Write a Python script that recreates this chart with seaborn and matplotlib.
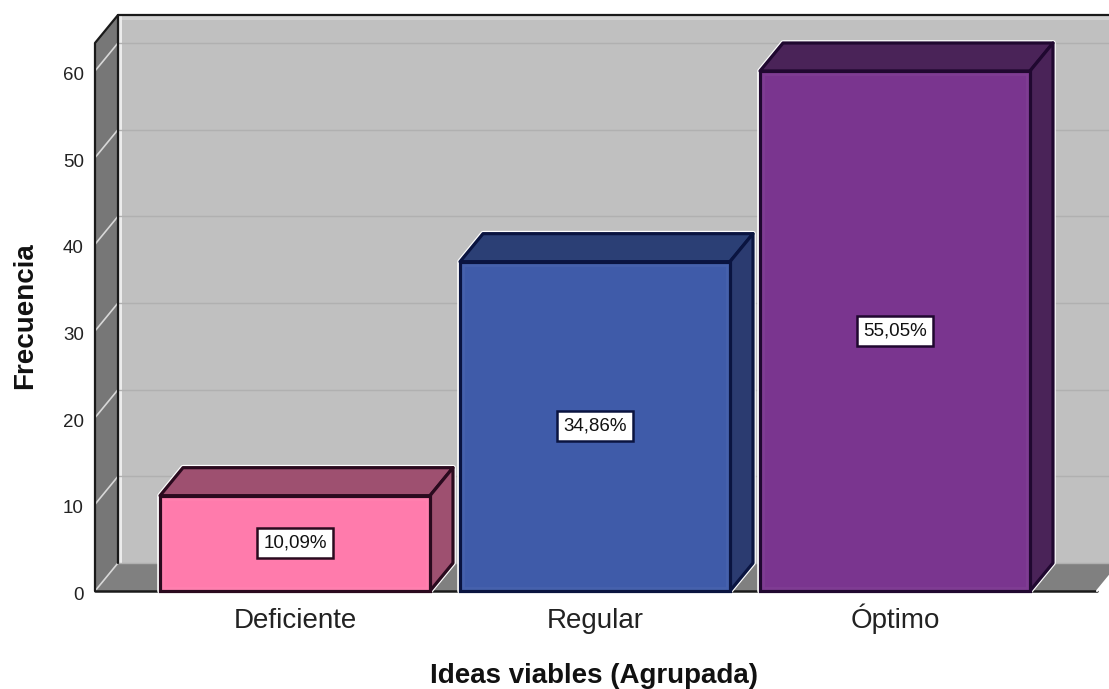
import matplotlib
matplotlib.use("Agg")
import matplotlib.pyplot as plt
from matplotlib.patches import Polygon, Rectangle
from matplotlib.transforms import ScaledTranslation
import pandas as pd
import seaborn as sns

categories = ["Deficiente", "Regular", "Óptimo"]
counts = [11, 38, 60]
percent_labels = ["10,09%", "34,86%", "55,05%"]
y_ticks = [0, 10, 20, 30, 40, 50, 60]

front_colors = ["#FF7BAC", "#3F5BA9", "#7A358F"]
top_colors = ["#9E5070", "#2B3F75", "#4A2358"]
side_colors = ["#9E5070", "#2B3B70", "#4A2358"]
edge_colors = ["#2A0A1E", "#0A1440", "#200830"]

sns.set_theme(style="white")
plt.rcParams["font.family"] = ["Liberation Sans", "DejaVu Sans"]

W, H = 1109, 689
fig = plt.figure(figsize=(W / 100, H / 100), dpi=100, facecolor="white")
ax = fig.add_axes([95 / W, (H - 591) / H, (W - 95) / W, 576 / H])

frame = pd.DataFrame({"categoria": categories, "frecuencia": counts})
sns.barplot(
    data=frame, x="categoria", y="frecuencia", hue="categoria",
    palette=front_colors, width=0.9, legend=False, saturation=1,
    ax=ax, zorder=5,
)

# Scales: one category spans 300 px, one count spans 8.667 px.
px_x, px_y = 1 / 300, 1 / 8.667
x_left = -200 * px_x
x_right = x_left + (W - 95) * px_x
y_top = 576 * px_y
ax.set_xlim(x_left, x_right)
ax.set_ylim(0, y_top)
depth_x, depth_y = 23 * px_x, 28 * px_y
floor_right = x_left + (1097 - 95) * px_x


def face(points, fc, ec="black", lw=1.6, z=1):
    ax.add_patch(Polygon(points, closed=True, facecolor=fc, edgecolor=ec,
                         linewidth=lw, joinstyle="round", clip_on=False, zorder=z))


# Back wall, floor and side wall of the chart box
wall_x = x_left + depth_x
face([(wall_x, depth_y), (x_right + 0.1, depth_y), (x_right + 0.1, y_top), (wall_x, y_top)],
     "#C0C0C0", ec="none", z=1)
ax.fill_between([wall_x, x_right], y_top - 0.6, y_top, color="#D2D2D2", lw=0, zorder=1.1)
ax.fill_between([wall_x, wall_x + 0.012], depth_y, y_top, color="#ECECEC", lw=0, zorder=1.1)
face([(x_left, 0), (floor_right, 0), (floor_right + depth_x, depth_y), (wall_x, depth_y)],
     "#808080", ec="none", z=1.2)
face([(x_left, 0), (wall_x, depth_y), (wall_x, y_top), (x_left, y_top - depth_y)],
     "#777777", ec="none", z=1.2)

for v in y_ticks:
    ax.plot([wall_x, x_right], [v + depth_y] * 2, color="#B0B0B0", lw=1,
            clip_on=False, zorder=1.3)
    ax.plot([x_left, wall_x], [v, v + depth_y], color="#D8D8D8", lw=1.2,
            clip_on=False, zorder=1.4)

ax.plot([x_left, x_left, wall_x, x_right], [0, y_top - depth_y, y_top, y_top],
        color="#1A1A1A", lw=1.6, clip_on=False, zorder=1.5)
ax.plot([wall_x, wall_x], [depth_y, y_top], color="#1A1A1A", lw=1.6, clip_on=False, zorder=1.5)
ax.plot([x_left, floor_right], [0, 0], color="#1A1A1A", lw=1.8, clip_on=False, zorder=1.5)
ax.plot([floor_right, floor_right + depth_x], [0, depth_y], color="white", lw=1.5,
        clip_on=False, zorder=1.5)

# Extrude each seaborn bar into a box, with a pale halo round its outline
bars = [c[0] for c in ax.containers]
for i, bar in enumerate(bars):
    x0, x1 = bar.get_x(), bar.get_x() + bar.get_width()
    h = bar.get_height()
    bar.set_edgecolor(edge_colors[i])
    bar.set_linewidth(2.3)
    bar.set_clip_on(False)
    face([(x0, 0), (x0, h), (x0 + depth_x, h + depth_y), (x1 + depth_x, h + depth_y),
          (x1 + depth_x, depth_y), (x1, 0)], "white", ec="white", lw=4, z=2)
    face([(x0, h), (x1, h), (x1 + depth_x, h + depth_y), (x0 + depth_x, h + depth_y)],
         top_colors[i], ec=edge_colors[i], lw=2.3, z=3)
    face([(x1, 0), (x1, h), (x1 + depth_x, h + depth_y), (x1 + depth_x, depth_y)],
         side_colors[i], ec=edge_colors[i], lw=2.3, z=3)
    # Faint bevel just inside the front face
    inset_x, inset_y = 3 * px_x, 3 * px_y
    ax.add_patch(Rectangle((x0 + inset_x, inset_y), x1 - x0 - 2 * inset_x, h - 2 * inset_y,
                           fill=False, edgecolor="white", alpha=0.04, lw=2, zorder=6))
    ax.text((x0 + x1) / 2, h / 2, percent_labels[i], ha="center", va="center",
            fontsize=13.5, color="#111111", zorder=8,
            bbox=dict(boxstyle="square,pad=0.34", fc="white", ec=edge_colors[i], lw=1.8))

sns.despine(ax=ax, left=True, bottom=True, top=True, right=True)
ax.set_yticks(y_ticks)
ax.set_yticklabels([str(v) for v in y_ticks], fontsize=13.5, color="#222222")
ax.set_xticks(range(len(categories)))
ax.set_xticklabels(categories, fontsize=20, color="#222222", va="baseline")
ax.tick_params(axis="y", length=0, pad=8)
ax.tick_params(axis="x", length=0, pad=26.6)
ax.set_xlabel("")
ax.set_ylabel("")

# Nudge the count labels slightly below their gridline heights
nudge = ScaledTranslation(0, -2.5 / 100, fig.dpi_scale_trans)
for label in ax.get_yticklabels():
    label.set_transform(label.get_transform() + nudge)

fig.text(594 / W, 1 - 676 / H, "Ideas viables (Agrupada)", ha="center", va="center",
         fontsize=20, fontweight="bold", color="#111111")
fig.text(25 / W, 1 - 316 / H, "Frecuencia", ha="center", va="center", rotation=90,
         fontsize=20, fontweight="bold", color="#111111")

fig.savefig("out.png", dpi=100)
